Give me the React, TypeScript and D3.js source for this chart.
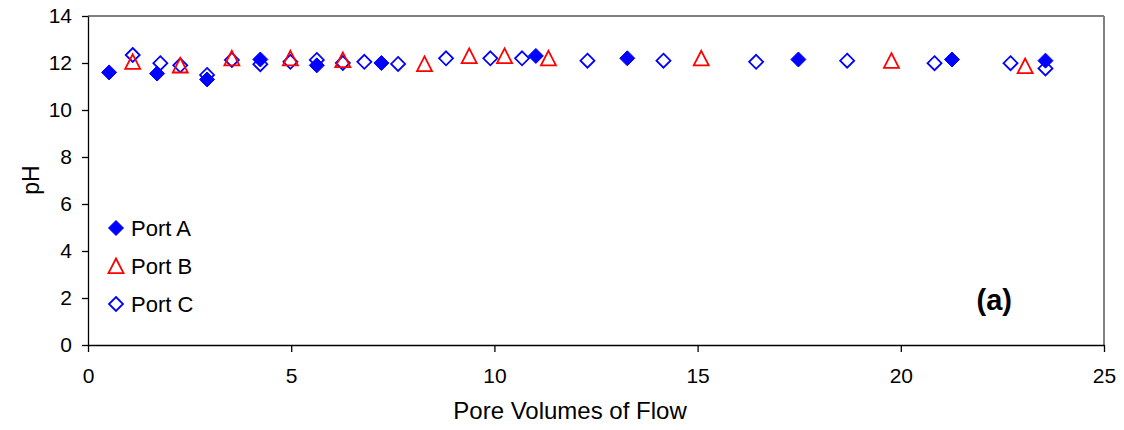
import React, { useEffect, useRef } from 'react';
import * as d3 from 'd3';

// pore volumes of flow / pH
const portAX = [0.52, 1.7, 2.93, 4.24, 5.63, 7.22, 11.02, 13.27, 17.48, 21.26, 23.56];
const portAY = [11.6, 11.55, 11.3, 12.15, 11.9, 12.0, 12.3, 12.2, 12.15, 12.15, 12.1];

const portBX = [1.1, 2.27, 3.54, 4.98, 6.27, 8.28, 9.38, 10.25, 11.33, 15.09, 19.77, 23.06];
const portBY = [12.05, 11.9, 12.2, 12.2, 12.13, 11.96, 12.3, 12.3, 12.2, 12.2, 12.1, 11.87];

const portCX = [1.1, 1.78, 2.27, 2.93, 3.54, 4.24, 4.98, 5.63, 6.27, 6.8, 7.63, 8.81, 9.9, 10.68, 12.29, 14.16, 16.44, 18.68, 20.83, 22.7, 23.56];
const portCY = [12.34, 11.99, 11.9, 11.49, 12.13, 11.95, 12.05, 12.13, 12.0, 12.05, 11.96, 12.2, 12.2, 12.2, 12.1, 12.1, 12.05, 12.1, 11.99, 11.99, 11.77];

const xTicks = [0, 5, 10, 15, 20, 25];
const yTicks = [0, 2, 4, 6, 8, 10, 12, 14];
const legendLabels = ['Port A', 'Port B', 'Port C'];

const W = 1124;
const H = 430;
const FONT = 'Arial, "Liberation Sans", sans-serif';

const App = () => {
  const svgRef = useRef<SVGSVGElement>(null);

  useEffect(() => {
    const svg = d3.select(svgRef.current);
    svg.selectAll('*').remove();

    const margin = { top: 16, right: 20, bottom: 85, left: 88 };
    const gw = W - margin.left - margin.right;
    const gh = H - margin.top - margin.bottom;

    const x = d3.scaleLinear().domain([0, 25]).range([0, gw]);
    const y = d3.scaleLinear().domain([0, 14]).range([gh, 0]);

    const g = svg.append('g').attr('transform', `translate(${margin.left},${margin.top})`);

    // grey frame on top and right
    g.append('line')
      .attr('x1', 0).attr('x2', gw).attr('y1', 0).attr('y2', 0)
      .attr('stroke', '#808080').attr('stroke-width', 2);
    g.append('line')
      .attr('x1', gw).attr('x2', gw).attr('y1', 0).attr('y2', gh)
      .attr('stroke', '#808080').attr('stroke-width', 2);

    const xAxis = g.append('g')
      .attr('transform', `translate(0,${gh})`)
      .call(d3.axisBottom(x).tickValues(xTicks).tickSize(7).tickSizeOuter(0).tickPadding(16));
    const yAxis = g.append('g')
      .call(d3.axisLeft(y).tickValues(yTicks).tickSize(6).tickSizeOuter(0).tickPadding(10));

    [xAxis, yAxis].forEach(a => {
      a.select('.domain').attr('stroke', '#000').attr('stroke-width', 1.3);
      a.selectAll('.tick line').attr('stroke', '#000').attr('stroke-width', 1.3);
      a.selectAll('text')
        .attr('fill', '#000')
        .style('font-family', FONT)
        .style('font-size', '21px');
    });

    const diamond = (s: number) => `M0,${-s}L${s},0L0,${s}L${-s},0Z`;
    const triangle = (s: number) => `M0,${-s}L${s},${s * 0.95}L${-s},${s * 0.95}Z`;

    // Port C (open diamonds)
    g.selectAll('.pc')
      .data(portCX)
      .enter()
      .append('path')
      .attr('d', diamond(7))
      .attr('transform', (d, i) => `translate(${x(d)},${y(portCY[i])})`)
      .attr('fill', 'none')
      .attr('stroke', '#0000ff')
      .attr('stroke-width', 1.8);

    // Port B (open triangles)
    g.selectAll('.pb')
      .data(portBX)
      .enter()
      .append('path')
      .attr('d', triangle(7.5))
      .attr('transform', (d, i) => `translate(${x(d)},${y(portBY[i])})`)
      .attr('fill', 'none')
      .attr('stroke', '#ff0000')
      .attr('stroke-width', 1.8);

    // Port A (filled diamonds)
    g.selectAll('.pa')
      .data(portAX)
      .enter()
      .append('path')
      .attr('d', diamond(7.5))
      .attr('transform', (d, i) => `translate(${x(d)},${y(portAY[i])})`)
      .attr('fill', '#0000ff')
      .attr('stroke', '#0000ff')
      .attr('stroke-width', 1);

    // legend
    const legend = g.append('g').attr('transform', 'translate(28,212)');
    legendLabels.forEach((lab, i) => {
      const row = legend.append('g').attr('transform', `translate(0,${i * 38})`);
      if (i === 0) {
        row.append('path').attr('d', diamond(7.5)).attr('fill', '#0000ff').attr('stroke', '#0000ff');
      } else if (i === 1) {
        row.append('path').attr('d', triangle(7.5)).attr('fill', 'none').attr('stroke', '#ff0000').attr('stroke-width', 1.8);
      } else {
        row.append('path').attr('d', diamond(7)).attr('fill', 'none').attr('stroke', '#0000ff').attr('stroke-width', 1.8);
      }
      row.append('text')
        .attr('x', 15)
        .attr('y', 8)
        .text(lab)
        .style('font-family', FONT)
        .style('font-size', '22px');
    });

    // panel label
    g.append('text')
      .attr('x', 924)
      .attr('y', 294)
      .attr('text-anchor', 'end')
      .text('(a)')
      .style('font-family', FONT)
      .style('font-weight', 'bold')
      .style('font-size', '29px');

    // axis titles
    svg.append('text')
      .attr('x', 570)
      .attr('y', 419)
      .attr('text-anchor', 'middle')
      .text('Pore Volumes of Flow')
      .style('font-family', FONT)
      .style('font-size', '24px');

    svg.append('text')
      .attr('transform', 'translate(39,180) rotate(-90)')
      .attr('text-anchor', 'middle')
      .text('pH')
      .style('font-family', FONT)
      .style('font-size', '23px');
  }, []);

  return (
    <svg
      ref={svgRef}
      width={W}
      height={H}
      style={{ position: 'absolute', left: 0, top: 0, background: '#fff' }}
    />
  );
};

export default App;
